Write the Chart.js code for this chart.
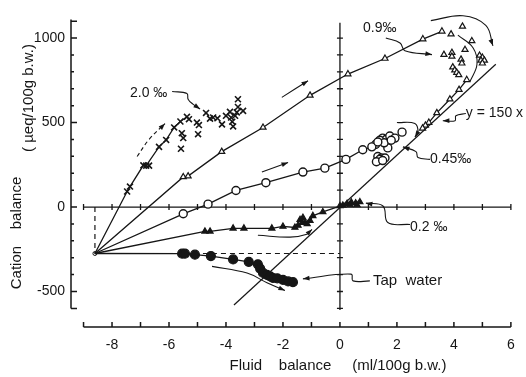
<!DOCTYPE html>
<html>
<head>
<meta charset="utf-8">
<script src="https://cdn.jsdelivr.net/npm/chart.js@4.4.0/dist/chart.umd.min.js"></script>
<style>
  html, body { margin: 0; padding: 0; background: #fff; }
  #wrap { width: 526px; height: 377px; }
</style>
</head>
<body>
<div id="wrap"><canvas id="chart"></canvas></div>
<script>
// ---- data: [fluid balance, cation balance] ----
const start = [[-8.6, -275]];

const salt20Line = [[-7.47, 92], [-7.37, 121], [-6.9, 247], [-6.8, 245], [-6.35, 356], [-6.1, 397],
  [-5.82, 471], [-5.6, 506], [-5.37, 534]];
const salt20Scatter = [[-6.7, 245], [-5.3, 520], [-5.55, 437], [-5.5, 408], [-5.58, 345], [-5.02, 500],
  [-4.95, 485], [-4.98, 431], [-4.7, 557], [-4.56, 523], [-4.45, 530], [-4.3, 525], [-4.14, 489],
  [-4.0, 540], [-3.86, 563], [-3.82, 530], [-3.78, 505], [-3.75, 477], [-3.68, 540], [-3.62, 560],
  [-3.58, 638], [-3.58, 592], [-3.4, 569]];

const salt09Line = [[-5.5, 178], [-5.33, 183], [-4.15, 328], [-2.7, 471], [-1.05, 661], [0.28, 787],
  [1.58, 879], [2.91, 994], [3.58, 1040]];
const salt09Return = [[4.45, 753], [4.18, 695], [3.86, 638], [3.4, 557], [3.12, 500], [3.0, 483], [2.9, 466]];
const salt09Scatter = [[3.9, 1023], [4.3, 1069], [4.63, 983], [4.39, 931], [3.65, 902], [3.93, 914],
  [3.93, 891], [4.25, 874], [4.28, 851], [3.96, 828], [4.03, 810], [4.1, 796], [4.17, 782],
  [4.9, 897], [5.0, 885], [4.95, 868], [5.07, 868], [5.0, 851]];

const salt045Line = [[-5.5, -40], [-4.63, 17], [-3.65, 98], [-2.6, 144], [-1.3, 207], [-0.53, 230],
  [0.21, 282], [0.8, 339], [1.12, 356], [1.33, 385]];
const salt045Scatter = [[1.5, 408], [1.62, 400], [1.75, 420], [1.93, 408], [1.68, 350], [1.4, 395],
  [1.55, 380], [1.8, 395], [1.25, 370], [2.18, 443], [1.33, 299], [1.45, 290], [1.58, 290],
  [1.4, 282], [1.28, 268], [1.5, 275]];

const salt02Line = [[-4.74, -144], [-4.56, -144], [-3.75, -126], [-3.37, -126], [-2.39, -126],
  [-2.0, -115], [-1.58, -121], [-1.33, -92], [-1.05, -80], [-0.95, -52], [-0.6, -29], [0, 6]];
const salt02Scatter = [[-1.47, -109], [-1.4, -75], [-1.23, -92], [-1.3, -63], [-1.15, -100],
  [0.1, 10], [0.25, 20], [0.4, 28], [0.55, 23], [0.7, 30], [0.35, 12], [0.6, 12]];

const tapLine = [[-5.54, -276], [-5.44, -276], [-5.09, -282], [-4.53, -290], [-3.75, -310], [-3.2, -325],
  [-2.88, -339], [-2.8, -365], [-2.7, -390], [-2.56, -402], [-2.45, -410], [-2.35, -420],
  [-2.2, -422], [-2.0, -431], [-1.82, -440], [-1.65, -445]];

const isoLine = [[-3.72, -580], [5.47, 845]];
const dashV = [[-8.6, 0], [-8.6, -275]];
const dashH = [[-8.6, -275], [0, -275]];

// arrows and label pointers (last point gets an arrow head)
const arrows = [
  { pts: [[-7.12, 299], [-6.7, 400], [-6.14, 494]], dash: [4, 3], head: true },
  { pts: [[-2.04, 649], [-1.12, 747]], head: true },
  { pts: [[-2.74, 207], [-1.82, 264]], head: true },
  { pts: [[-2.88, -167], [-1.75, -178], [-1.16, -161], [-0.98, -132]], head: true },
  { pts: [[-4.49, -351], [-3.26, -391], [-2.56, -448], [-1.93, -494]], head: true },
  { pts: [[3.19, 1103], [4.32, 1132], [5.12, 1075], [5.37, 954]], head: true },
  { pts: [[4.14, 1017], [4.67, 943], [4.81, 845], [4.56, 741]], head: false },
  { pts: [[2.0, 500], [2.63, 494], [2.74, 443], [2.63, 414]], head: true },
  { pts: [[1.61, 1000], [2.11, 971], [2.28, 925], [3.23, 902]], head: true },
  { pts: [[-5.89, 684], [-5.37, 672], [-5.33, 638], [-5.16, 609], [-4.91, 580]], head: true },
  { pts: [[4.42, 553], [4.07, 540], [4.04, 511], [3.61, 511]], head: true },
  { pts: [[3.16, 282], [2.74, 293], [2.67, 328], [2.21, 356]], head: true },
  { pts: [[2.46, -103], [1.68, -92], [1.51, 6], [0.91, 23]], head: true },
  { pts: [[1.05, -437], [0.46, -437], [0.39, -397], [-1.3, -425]], head: true }
];

const notes = [
  { text: '2.0 ‰', x: -7.37, y: 674 },
  { text: '0.9‰', x: 0.81, y: 1060 },
  { text: 'y = 150 x', x: 4.42, y: 553 },
  { text: '0.45‰', x: 3.16, y: 282 },
  { text: '0.2 ‰', x: 2.46, y: -121 },
  { text: 'Tap  water', x: 1.16, y: -438 }
];

const xTickLabels = [-8, -6, -4, -2, 0, 2, 4, 6];
const yTickLabels = [-500, 0, 500, 1000];

const ink = '#161616';
const font = "'Liberation Sans', Arial, sans-serif";
const pts = a => a.map(p => ({ x: p[0], y: p[1] }));

const lineSet = (data, style, opts) => Object.assign({
  data: pts(data), showLine: true, borderColor: ink, borderWidth: 1.3,
  backgroundColor: '#fff', pointBorderColor: ink, pointStyle: style,
  pointRadius: ctx => ctx.dataIndex === 0 ? 0 : 3.5, pointBorderWidth: 1.2
}, opts || {});
const dotSet = (data, style, opts) => Object.assign({
  data: pts(data), showLine: false, borderColor: ink, backgroundColor: '#fff',
  pointBorderColor: ink, pointStyle: style, pointRadius: 3.5, pointBorderWidth: 1.2
}, opts || {});

const datasets = [
  { data: pts(dashV), showLine: true, borderColor: ink, borderWidth: 1.2, borderDash: [5, 4], pointRadius: 0 },
  { data: pts(dashH), showLine: true, borderColor: ink, borderWidth: 1.2, borderDash: [5, 4], pointRadius: 0 },
  { data: pts(isoLine), showLine: true, borderColor: ink, borderWidth: 1.2, pointRadius: 0 },
  lineSet(start.concat(salt20Line), 'crossRot', { pointRadius: ctx => ctx.dataIndex === 0 ? 0 : 4.2, pointBorderWidth: 1.6 }),
  dotSet(salt20Scatter, 'crossRot', { pointRadius: 4.2, pointBorderWidth: 1.6 }),
  lineSet(start.concat(salt09Line), 'triangle'),
  lineSet(salt09Return, 'triangle', { pointRadius: 3.5 }),
  dotSet(salt09Scatter, 'triangle'),
  lineSet(start.concat(salt045Line), 'circle', { pointRadius: ctx => ctx.dataIndex === 0 ? 0 : 4, pointBorderWidth: 1.4 }),
  dotSet(salt045Scatter, 'circle', { pointRadius: 4, pointBorderWidth: 1.4 }),
  lineSet(start.concat(salt02Line), 'triangle', { pointBackgroundColor: ink }),
  dotSet(salt02Scatter, 'triangle', { pointBackgroundColor: ink }),
  lineSet(start.concat(tapLine), 'circle', { pointBackgroundColor: ink, pointRadius: ctx => ctx.dataIndex === 0 ? 0 : 4.5 }),
  dotSet(start, 'circle', { pointRadius: 2, pointBorderWidth: 1 })
];
arrows.forEach(a => datasets.push({
  data: pts(a.pts), showLine: true, borderColor: ink, borderWidth: 1.1, borderDash: a.dash || [],
  tension: 0.4, pointRadius: 0, arrowHead: a.head
}));

const frame = {
  id: 'frame',
  beforeDatasetsDraw(chart) {
    const { ctx, scales: { x, y }, chartArea: a } = chart;
    ctx.save();
    ctx.strokeStyle = ink;
    ctx.lineWidth = 1.5;
    ctx.beginPath();
    // left axis, ticks pointing in
    ctx.moveTo(a.left, y.getPixelForValue(-600));
    ctx.lineTo(a.left, y.getPixelForValue(1110));
    for (let v = -600; v <= 1100; v += 100) {
      const p = y.getPixelForValue(v);
      const len = (v % 500 === 0 || v === 1100 || v === -600) ? 6 : 3;
      ctx.moveTo(a.left, p); ctx.lineTo(a.left + len, p);
    }
    // bottom axis
    ctx.moveTo(x.getPixelForValue(-9), a.bottom);
    ctx.lineTo(x.getPixelForValue(6), a.bottom);
    for (let v = -9; v <= 6; v++) {
      const p = x.getPixelForValue(v);
      ctx.moveTo(p, a.bottom); ctx.lineTo(p, a.bottom - 5);
    }
    ctx.stroke();
    // cross lines through zero
    ctx.lineWidth = 1.3;
    ctx.beginPath();
    const x0 = x.getPixelForValue(0), y0 = y.getPixelForValue(0);
    ctx.moveTo(x0, y.getPixelForValue(1090));
    ctx.lineTo(x0, y.getPixelForValue(-610));
    for (let v = -600; v <= 1000; v += 100) {
      const p = y.getPixelForValue(v);
      ctx.moveTo(x0 - 3, p); ctx.lineTo(x0 + 3, p);
    }
    ctx.moveTo(x.getPixelForValue(-9), y0);
    ctx.lineTo(x.getPixelForValue(6), y0);
    for (let v = -9; v <= 6; v++) {
      const p = x.getPixelForValue(v);
      ctx.moveTo(p, y0 - 3); ctx.lineTo(p, y0 + 3);
    }
    ctx.stroke();
    ctx.restore();
  },
  afterDatasetsDraw(chart) {
    const { ctx, scales: { x, y } } = chart;
    ctx.save();
    ctx.fillStyle = ink;
    chart.data.datasets.forEach((ds, i) => {
      if (!ds.arrowHead) return;
      const el = chart.getDatasetMeta(i).data;
      const p = el[el.length - 1], q = el[el.length - 2];
      const ang = Math.atan2(p.y - q.y, p.x - q.x);
      ctx.beginPath();
      ctx.moveTo(p.x, p.y);
      ctx.lineTo(p.x - 7 * Math.cos(ang - 0.35), p.y - 7 * Math.sin(ang - 0.35));
      ctx.lineTo(p.x - 7 * Math.cos(ang + 0.35), p.y - 7 * Math.sin(ang + 0.35));
      ctx.closePath();
      ctx.fill();
    });
    ctx.textBaseline = 'middle';
    ctx.textAlign = 'left';
    notes.forEach(n => {
      ctx.font = (n.text.indexOf('Tap') === 0 ? '15px ' : '14px ') + font;
      ctx.fillText(n.text, x.getPixelForValue(n.x), y.getPixelForValue(n.y));
    });
    // axis titles
    ctx.font = '15px ' + font;
    ctx.textAlign = 'center';
    ctx.fillText('Fluid    balance     (ml/100g b.w.)', 338, 366);
    ctx.save();
    ctx.translate(17, 233);
    ctx.rotate(-Math.PI / 2);
    ctx.fillText('Cation    balance', 0, 0);
    ctx.restore();
    ctx.save();
    ctx.translate(29, 98);
    ctx.rotate(-Math.PI / 2);
    ctx.fillText('( µeq/100g b.w.)', 0, 0);
    ctx.restore();
    ctx.restore();
  }
};

new Chart(document.getElementById('chart'), {
  type: 'scatter',
  data: { datasets },
  plugins: [frame],
  options: {
    responsive: true,
    maintainAspectRatio: false,
    animation: false,
    layout: { padding: { top: 6, right: 6, left: 0, bottom: 0 } },
    plugins: { legend: { display: false }, tooltip: { enabled: false } },
    scales: {
      x: {
        type: 'linear', min: -9.44, max: 6.32,
        grid: { display: false, drawTicks: false }, border: { display: false },
        afterBuildTicks: s => { s.ticks = xTickLabels.map(v => ({ value: v })); },
        afterFit: s => { s.height = 50; },
        ticks: { color: ink, padding: 10, font: { family: font, size: 14 }, callback: v => String(v) }
      },
      y: {
        type: 'linear', min: -710, max: 1140,
        grid: { display: false, drawTicks: false }, border: { display: false },
        afterBuildTicks: s => { s.ticks = yTickLabels.map(v => ({ value: v })); },
        afterFit: s => { s.width = 71; },
        ticks: { color: ink, padding: 6, font: { family: font, size: 14 }, callback: v => String(v) }
      }
    }
  }
});
</script>
</body>
</html>
